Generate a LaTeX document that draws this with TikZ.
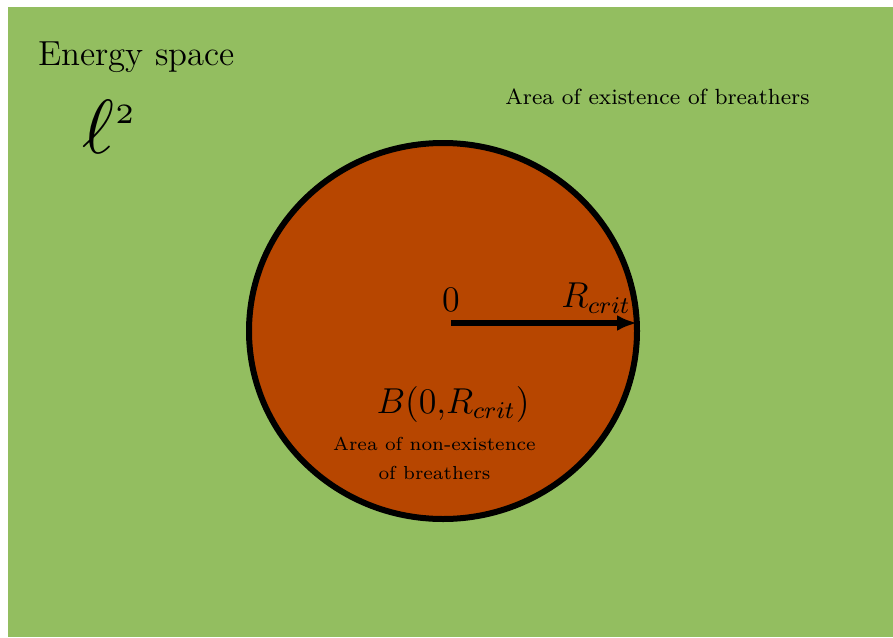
\documentclass[tikz,border=0pt]{standalone}
\usepackage{graphicx}
\usetikzlibrary{arrows.meta}
\definecolor{bggreen}{RGB}{147,190,96}
\definecolor{ballbrown}{RGB}{183,70,0}
\tikzset{
  lbl/.style={inner sep=0pt, text=black, transform shape},
  mathlbl/.style={lbl, scale=3.0, font=\large},
}
\begin{document}
\begin{tikzpicture}[x=1pt,y=-1pt]
\useasboundingbox (0,0) rectangle (893,637);
\fill[bggreen] (8,7) rectangle (893,637);
\coordinate (c) at (443,331);
\draw[line width=6pt, fill=ballbrown] (c) ellipse [x radius=194, y radius=188];
\node[lbl, scale=2.9, font=\large] (title) at (136.5,57) {Energy space};
\node[inner sep=0pt, anchor=base west] (ell) at (82,153)
  {$\scalebox{7.66}{$\ell$}\kern1pt\raisebox{30pt}{\scalebox{5.6}{$\scriptscriptstyle 2$}}$};
\node[lbl, scale=2.75, font=\footnotesize] (exist) at (657.5,97) {Area of existence of breathers};
\coordinate (o) at (451,323);
\coordinate (r) at (637,323);
\draw[line width=5.5pt, -{Latex[length=20pt,width=16pt]}] (o) -- (r);
\node[mathlbl] (zero) at (451,300) {$0$};
\node[mathlbl] (rc) at (596,298) {$R_{crit}$};
\node[mathlbl] (ball) at (453,404) {$B(0{,}R_{crit})$};
\node[lbl, scale=2.69, align=center, font=\fontsize{7}{10.8}\selectfont] (nonex) at (434.5,458) {Area of non-existence\\of breathers};
\end{tikzpicture}
\end{document}
